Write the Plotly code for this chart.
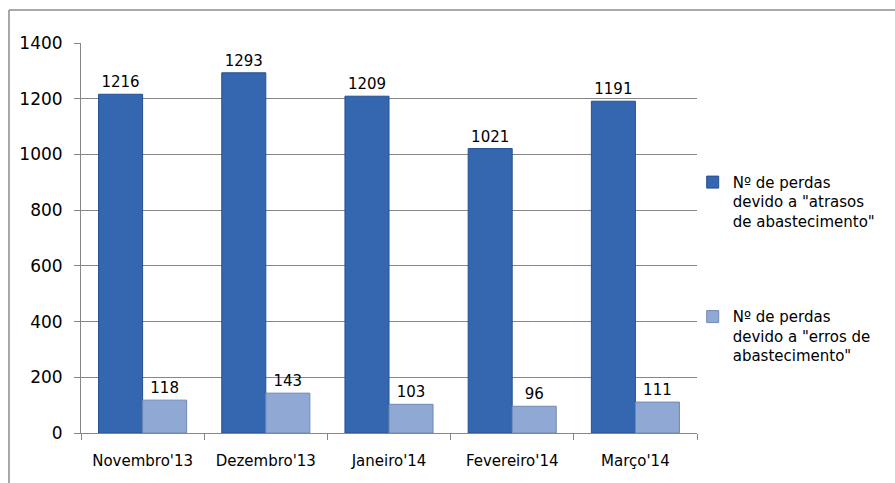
import plotly.graph_objects as go

categories = ["Novembro'13", "Dezembro'13", "Janeiro'14", "Fevereiro'14", "Março'14"]
atrasos = [1216, 1293, 1209, 1021, 1191]
erros = [118, 143, 103, 96, 111]
series_names = ["Nº de perdas<br>devido a \"atrasos<br>de abastecimento\"",
                "Nº de perdas<br>devido a \"erros de<br>abastecimento\""]
y_ticks = [0, 200, 400, 600, 800, 1000, 1200, 1400]

FONT = "'DejaVu Sans', sans-serif"

fig = go.Figure()
fig.add_trace(go.Bar(
    x=categories, y=atrasos, name=series_names[0], legendgroup="a",
    marker=dict(color="#3566B0", line=dict(color="#24508F", width=1)),
    text=atrasos, textposition="outside", cliponaxis=False,
    textfont=dict(family=FONT, size=15, color="#000000"),
))
fig.add_trace(go.Bar(
    x=categories, y=erros, name=series_names[1], legendgroup="b",
    marker=dict(color="#8FA8D4", line=dict(color="#6F88B5", width=1)),
    text=erros, textposition="outside", cliponaxis=False,
    textfont=dict(family=FONT, size=15, color="#000000"),
))

fig.update_layout(
    width=895, height=483,
    margin=dict(l=81, r=198, t=43, b=50),
    paper_bgcolor="white", plot_bgcolor="white",
    barmode="group", bargap=0.285, bargroupgap=0,
    font=dict(family=FONT, size=15, color="#000000"),
    showlegend=True,
    legend=dict(x=0.993, y=0.685, xanchor="left", yanchor="top",
                valign="top", tracegroupgap=73,
                font=dict(family=FONT, size=15, color="#000000"),
                bgcolor="rgba(0,0,0,0)"),
    xaxis=dict(showline=True, linecolor="#868686", linewidth=1,
               ticks="outside", tickson="boundaries", ticklen=6, tickcolor="#868686",
               ticklabelstandoff=14,
               showgrid=False, tickfont=dict(family=FONT, size=15)),
    yaxis=dict(range=[0, 1400], tickvals=y_ticks, showline=True, linecolor="#868686",
               linewidth=1, ticks="outside", ticklen=6, tickcolor="#868686",
               ticklabelstandoff=8,
               showgrid=True, gridcolor="#868686", gridwidth=1, zeroline=False,
               tickfont=dict(family=FONT, size=17)),
    shapes=[
        dict(type="line", xref="paper", yref="paper", x0=-0.1169, x1=-0.1169,
             y0=-0.2, y1=1.0846, line=dict(color="#8C8C8C", width=1.5)),
        dict(type="line", xref="paper", yref="paper", x0=-0.1169, x1=1.4,
             y0=1.0846, y1=1.0846, line=dict(color="#8C8C8C", width=1.5)),
    ],
)

fig.write_html("out.html")
